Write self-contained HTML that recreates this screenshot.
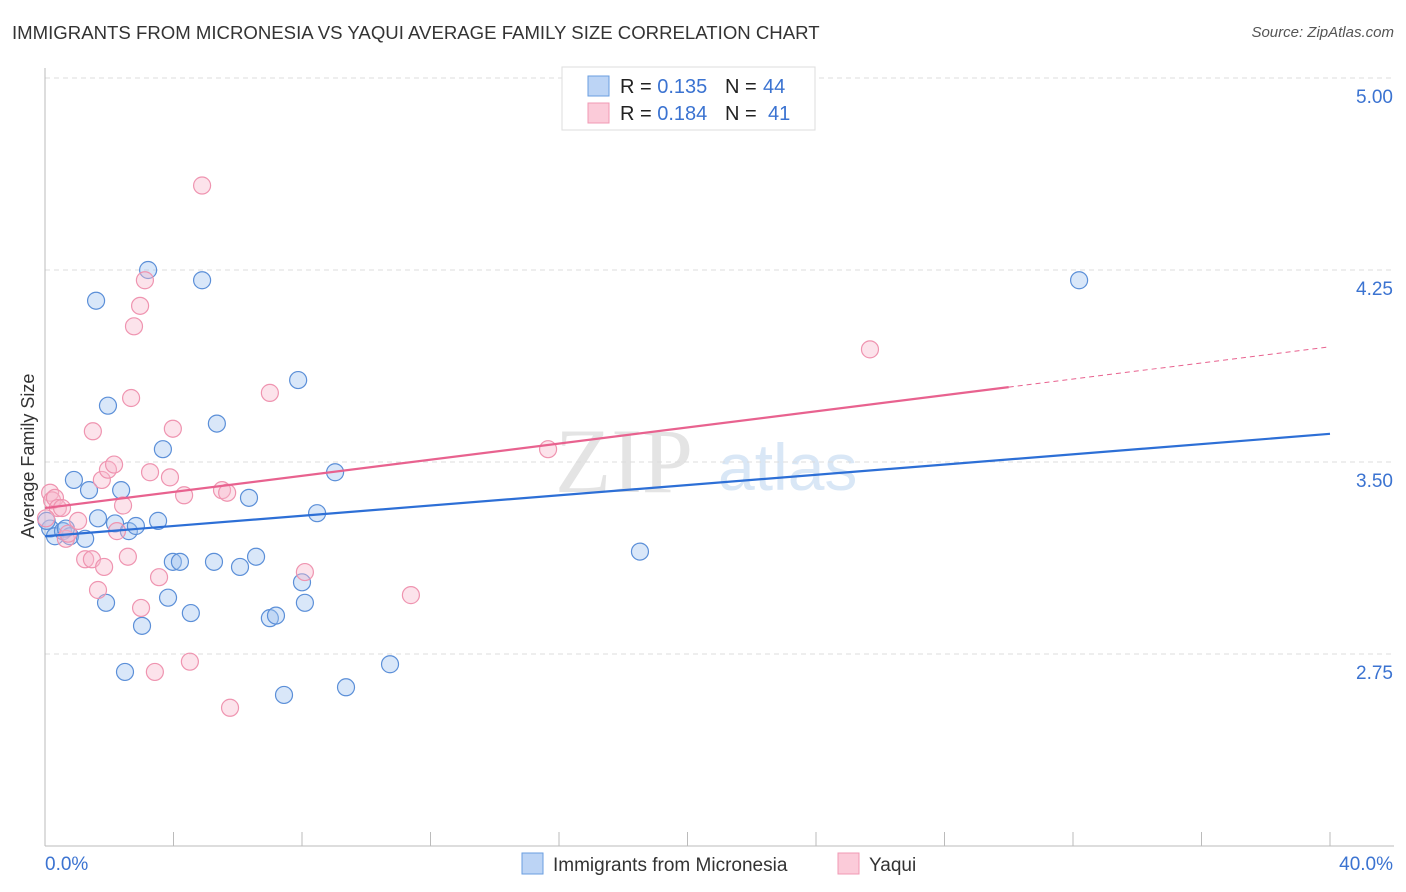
<!DOCTYPE html>
<html><head><meta charset="utf-8">
<style>
body{margin:0;background:#fff;font-family:"Liberation Sans",sans-serif;}
#wrap{position:relative;width:1406px;height:892px;overflow:hidden;}
.t{position:absolute;white-space:nowrap;}
</style></head>
<body>
<div id="wrap">
<div class="t" style="left:12px;top:22px;font-size:18.6px;color:#333;">IMMIGRANTS FROM MICRONESIA VS YAQUI AVERAGE FAMILY SIZE CORRELATION CHART</div>
<div class="t" style="right:12px;top:24px;font-size:15px;color:#555;font-style:italic;">Source: ZipAtlas.com</div>
<svg id="svg" width="1406" height="892" style="position:absolute;left:0;top:0"></svg>
</div>
<script>
const xTickVals=[0,5,10,15,20,25,30,35,40];
const yTickVals=[2.75,3.5,4.25,5.0];
const yTickLabels=["2.75","3.50","4.25","5.00"];
const blueX=[0.16,0.31,0.56,0.78,0.90,1.25,1.37,1.59,1.65,1.90,1.96,2.18,2.37,2.49,2.61,2.83,3.02,3.21,3.52,3.67,3.83,3.98,4.20,4.54,4.89,5.26,5.35,6.07,6.35,6.57,7.00,7.19,7.44,7.88,8.00,8.09,8.47,9.03,9.37,10.74,18.52,32.19,0.65,0.05];
const blueY=[3.24,3.21,3.23,3.21,3.43,3.20,3.39,4.13,3.28,2.95,3.72,3.26,3.39,2.68,3.23,3.25,2.86,4.25,3.27,3.55,2.97,3.11,3.11,2.91,4.21,3.11,3.65,3.09,3.36,3.13,2.89,2.90,2.59,3.82,3.03,2.95,3.30,3.46,2.62,2.71,3.15,4.21,3.24,3.27];
const pinkX=[0.16,0.22,0.31,0.40,0.65,0.72,1.03,1.25,1.46,1.49,1.65,1.77,1.84,1.96,2.15,2.24,2.43,2.58,2.68,2.77,2.96,2.99,3.11,3.27,3.42,3.55,3.89,3.98,4.33,4.51,4.89,5.51,5.67,5.76,7.00,8.09,11.39,15.66,25.68,0.03,0.53];
const pinkY=[3.38,3.35,3.36,3.32,3.20,3.22,3.27,3.12,3.12,3.62,3.00,3.43,3.09,3.47,3.49,3.23,3.33,3.13,3.75,4.03,4.11,2.93,4.21,3.46,2.68,3.05,3.44,3.63,3.37,2.72,4.58,3.39,3.38,2.54,3.77,3.07,2.98,3.55,3.94,3.28,3.32];
const blueTrend=[3.21,3.61];
const pinkTrend=[3.32,3.95];
const pinkSolidEnd=30.0;

const X0=45,X1=1330,YT=78,YB=846;
const sx=v=>X0+(v/40)*(X1-X0);
const sy=v=>YT+(5-v)/3*(YB-YT);
const svg=document.getElementById('svg');
const NS='http://www.w3.org/2000/svg';
function mk(tag,attrs){const e=document.createElementNS(NS,tag);for(const k in attrs)e.setAttribute(k,attrs[k]);svg.appendChild(e);return e;}

let wm=mk('text',{x:555,y:492,'font-size':92,'font-family':'Liberation Serif,serif',fill:'#e4e4e4'});
wm.textContent='ZIP';


let wm2=mk('text',{x:718,y:490,'font-size':66,'font-family':'Liberation Sans,sans-serif',fill:'#d9e7f6'});
wm2.textContent='atlas';



yTickVals.forEach((v,i)=>{
  const g=mk('line',{x1:X0,x2:1394,y1:sy(v),y2:sy(v),stroke:'#ddd','stroke-dasharray':'5,4'});
  
  
  const t=mk('text',{x:1393,y:sy(v)+25,'text-anchor':'end','font-size':19,fill:'#3b73d1'});
  t.textContent=yTickLabels[i];
  
  
});
let ax=mk('line',{x1:X0,x2:X0,y1:68,y2:YB,stroke:'#bbb'});


let bx=mk('line',{x1:X0,x2:1394,y1:YB,y2:YB,stroke:'#bbb'});


for(let v=0;v<=40;v+=4){
  const tk=mk('line',{x1:sx(v),x2:sx(v),y1:YB,y2:YB-14,stroke:'#bbb'});
  
  
}
let xl0=mk('text',{x:45,y:870,'font-size':19,fill:'#3b73d1'});xl0.textContent='0.0%';


let xl1=mk('text',{x:1393,y:870,'text-anchor':'end','font-size':19,fill:'#3b73d1'});xl1.textContent='40.0%';


let yt=mk('text',{x:34,y:456,'font-size':18,fill:'#333',transform:'rotate(-90 34 456)','text-anchor':'middle'});
yt.textContent='Average Family Size';



blueX.forEach((v,i)=>{
  const c=mk('circle',{cx:sx(v),cy:sy(blueY[i]),r:8.5,fill:'rgba(160,196,240,0.4)',stroke:'#5b8fd8','stroke-width':1.2});
  
  
});
pinkX.forEach((v,i)=>{
  const c=mk('circle',{cx:sx(v),cy:sy(pinkY[i]),r:8.5,fill:'rgba(248,184,204,0.4)',stroke:'#ef94b0','stroke-width':1.2});
  
  
});
let bl=mk('line',{x1:sx(0),y1:sy(blueTrend[0]),x2:sx(40),y2:sy(blueTrend[1]),stroke:'#2d6fd6','stroke-width':2.2});


const pm=pinkTrend[0]+(pinkTrend[1]-pinkTrend[0])*pinkSolidEnd/40;
let pl=mk('line',{x1:sx(0),y1:sy(pinkTrend[0]),x2:sx(pinkSolidEnd),y2:sy(pm),stroke:'#e8628f','stroke-width':2.2});


let pd=mk('line',{x1:sx(pinkSolidEnd),y1:sy(pm),x2:sx(40),y2:sy(pinkTrend[1]),stroke:'#e8628f','stroke-width':1,'stroke-dasharray':'5,4'});



let lb=mk('rect',{x:562,y:67,width:253,height:63,fill:'#fff',stroke:'#ddd'});


[[0,'#bcd4f5','#6a9ee0','0.135','44'],[1,'#fbcbd9','#f09ab4','0.184','41']].forEach(r=>{
  const y=76+r[0]*27;
  const s=mk('rect',{x:588,y:y,width:21,height:20,fill:r[1],stroke:r[2]});
  
  
  const t=mk('text',{x:620,y:y+17,'font-size':20,fill:'#222'});
  t.innerHTML='R = <tspan fill="#3b73d1">'+r[3]+'</tspan><tspan x="725">N = </tspan><tspan fill="#3b73d1" x="'+(r[0]?768:763)+'">'+r[4]+'</tspan>';
  
  
});
[[522,'#bcd4f5','#6a9ee0','Immigrants from Micronesia'],[838,'#fbcbd9','#f09ab4','Yaqui']].forEach(r=>{
  const s=mk('rect',{x:r[0],y:853,width:21,height:21,fill:r[1],stroke:r[2]});
  
  
  const t=mk('text',{x:r[0]+31,y:871,'font-size':19,fill:'#333'});
  t.textContent=r[3];
  
  
});
</script>
</body></html>
